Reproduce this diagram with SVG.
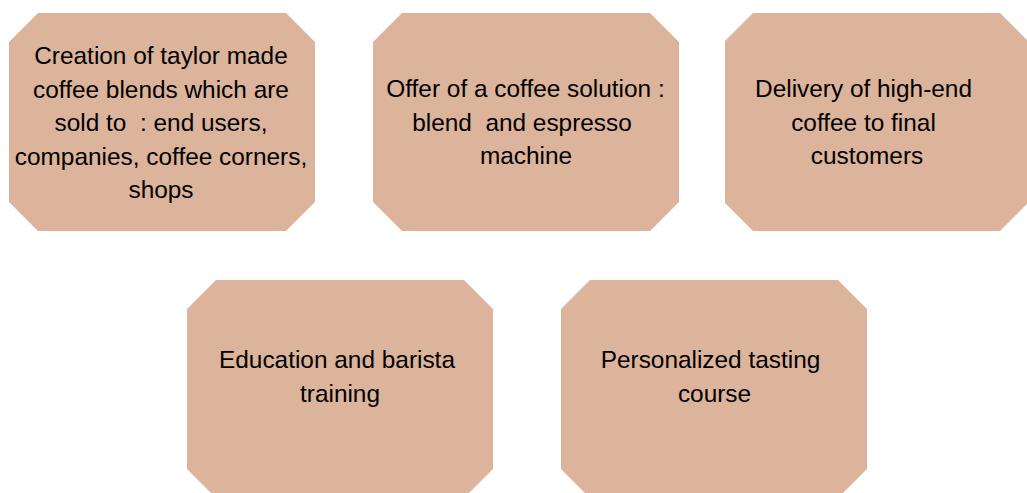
<svg xmlns="http://www.w3.org/2000/svg" width="1027" height="493" viewBox="0 0 1027 493">
<style>
.box{fill:#dcb39b;stroke:none}
.t{font-family:"Liberation Sans",Arial,sans-serif;font-size:24.4px;fill:#000;text-anchor:middle;white-space:pre}
</style>
<rect width="1027" height="493" fill="#fff"/>
<g id="connectors"/>
<g id="node1">
<polygon class="box" points="38,13 286,13 315,42 315,202 286,231 38,231 9,202 9,42"/>
<text class="t" x="161" y="64">Creation of taylor made</text>
<text class="t" x="161" y="98">coffee blends which are</text>
<text class="t" x="161" y="131">sold to  : end users,</text>
<text class="t" x="161" y="165">companies, coffee corners,</text>
<text class="t" x="161" y="198">shops</text>
</g>
<g id="node2">
<polygon class="box" points="402,13 650,13 679,42 679,202 650,231 402,231 373,202 373,42"/>
<text class="t" x="525.5" y="97">Offer of a coffee solution :</text>
<text class="t" x="522" y="131">blend  and espresso</text>
<text class="t" x="526" y="164">machine</text>
</g>
<g id="node3">
<polygon class="box" points="753,13 1000,13 1028,41 1028,203 1000,231 753,231 725,203 725,41"/>
<text class="t" x="863.5" y="97">Delivery of high-end</text>
<text class="t" x="863.5" y="131">coffee to final</text>
<text class="t" x="867" y="164">customers</text>
</g>
<g id="node4">
<polygon class="box" points="216,280 464,280 493,309 493,469 464,498 216,498 187,469 187,309"/>
<text class="t" x="337" y="368">Education and barista</text>
<text class="t" x="340" y="402">training</text>
</g>
<g id="node5">
<polygon class="box" points="590,280 838,280 867,309 867,469 838,498 590,498 561,469 561,309"/>
<text class="t" x="710.5" y="368">Personalized tasting</text>
<text class="t" x="714.5" y="402">course</text>
</g>
</svg>
